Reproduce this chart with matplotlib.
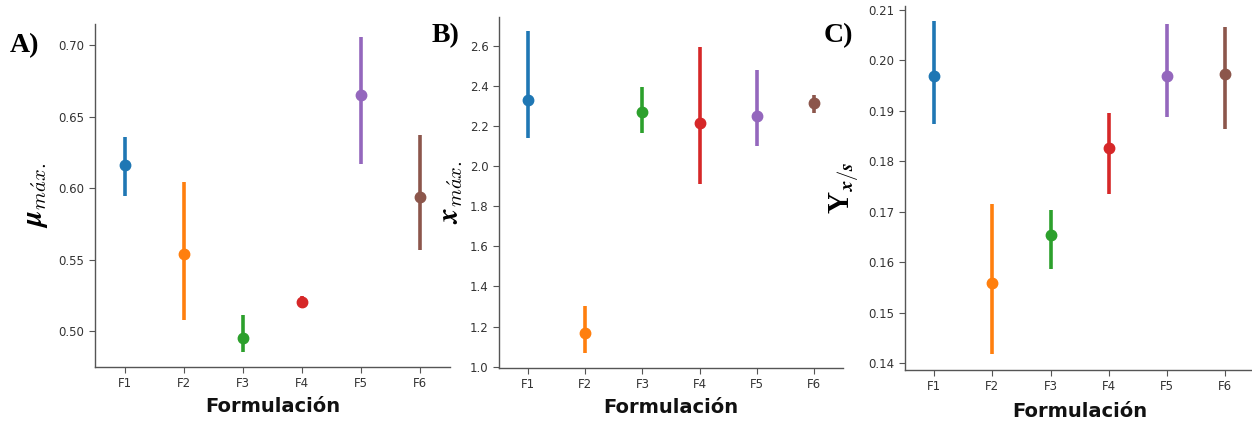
import matplotlib
matplotlib.use('Agg')
import matplotlib.pyplot as plt

plt.rcParams['mathtext.fontset'] = 'cm'

formulaciones = ['F1', 'F2', 'F3', 'F4', 'F5', 'F6']
colores = ['#1f77b4', '#ff7f0e', '#2ca02c', '#d62728', '#9467bd', '#8c564b']

# A) mu max
mu_media = [0.616, 0.554, 0.495, 0.520, 0.665, 0.594]
mu_inf = [0.5945, 0.508, 0.4855, 0.516, 0.617, 0.5565]
mu_sup = [0.6355, 0.6045, 0.511, 0.5245, 0.7055, 0.637]

# B) x max
x_media = [2.329, 1.169, 2.270, 2.213, 2.249, 2.315]
x_inf = [2.138, 1.066, 2.162, 1.909, 2.101, 2.262]
x_sup = [2.674, 1.302, 2.394, 2.594, 2.477, 2.353]

# C) Yx/s
y_media = [0.1969, 0.1560, 0.1654, 0.1826, 0.1968, 0.1972]
y_inf = [0.1874, 0.1418, 0.1586, 0.1736, 0.1888, 0.1864]
y_sup = [0.2077, 0.1716, 0.1704, 0.1895, 0.2071, 0.2066]

fig = plt.figure(figsize=(12.52, 4.23), dpi=100)


def panel(rect, media, inf, sup, ylim, yticks, yfmt, ylabel, letra, letra_pos, ylab_x, xlab_y):
    ax = fig.add_axes(rect)
    ax.vlines(formulaciones, inf, sup, colors=colores, lw=2.6, zorder=2)
    for f, m, c in zip(formulaciones, media, colores):
        ax.plot([f], [m], 'o', color=c, ms=7.5, zorder=3)
    ax.set_xlim(-0.5, 5.5)
    ax.set_ylim(*ylim)
    ax.set_yticks(yticks)
    ax.set_yticklabels([yfmt.format(t) for t in yticks])
    ax.spines['top'].set_visible(False)
    ax.spines['right'].set_visible(False)
    for s in ('left', 'bottom'):
        ax.spines[s].set_color('#555555')
        ax.spines[s].set_linewidth(1.0)
    ax.tick_params(colors='#555555', labelcolor='#333333', labelsize=8.5, length=4)
    ax.set_ylabel(ylabel, fontsize=21)
    ax.yaxis.set_label_coords(ylab_x, 0.5)
    ax.set_xlabel('Formulación', fontsize=14, fontweight='bold', color='#111111')
    ax.xaxis.set_label_coords(0.5, xlab_y)
    fig.text(letra_pos[0], letra_pos[1], letra, fontsize=20, fontweight='bold',
             family='Liberation Serif', ha='left', va='center')
    return ax


panel([0.0759, 0.1324, 0.2835, 0.8109], mu_media, mu_inf, mu_sup,
      (0.4748, 0.7149), [0.50, 0.55, 0.60, 0.65, 0.70], '{:.2f}',
      r'$\boldsymbol{\mu}_{m\acute{a}x.}$', 'A)', (0.008, 0.893), -0.127, -0.087)

panel([0.3986, 0.1300, 0.2748, 0.8298], x_media, x_inf, x_sup,
      (0.9935, 2.742), [1.0, 1.2, 1.4, 1.6, 1.8, 2.0, 2.2, 2.4, 2.6], '{:.1f}',
      r'$\boldsymbol{x}_{m\acute{a}x.}$', 'B)', (0.345, 0.915), -0.099, -0.085)

panel([0.7229, 0.1253, 0.2788, 0.8605], y_media, y_inf, y_sup,
      (0.1387, 0.2107), [0.14, 0.15, 0.16, 0.17, 0.18, 0.19, 0.20, 0.21], '{:.2f}',
      r'$\mathbf{Y}_{\boldsymbol{x/s}}$', 'C)', (0.658, 0.915), -0.123, -0.088)

fig.savefig('out.png', dpi=100)
